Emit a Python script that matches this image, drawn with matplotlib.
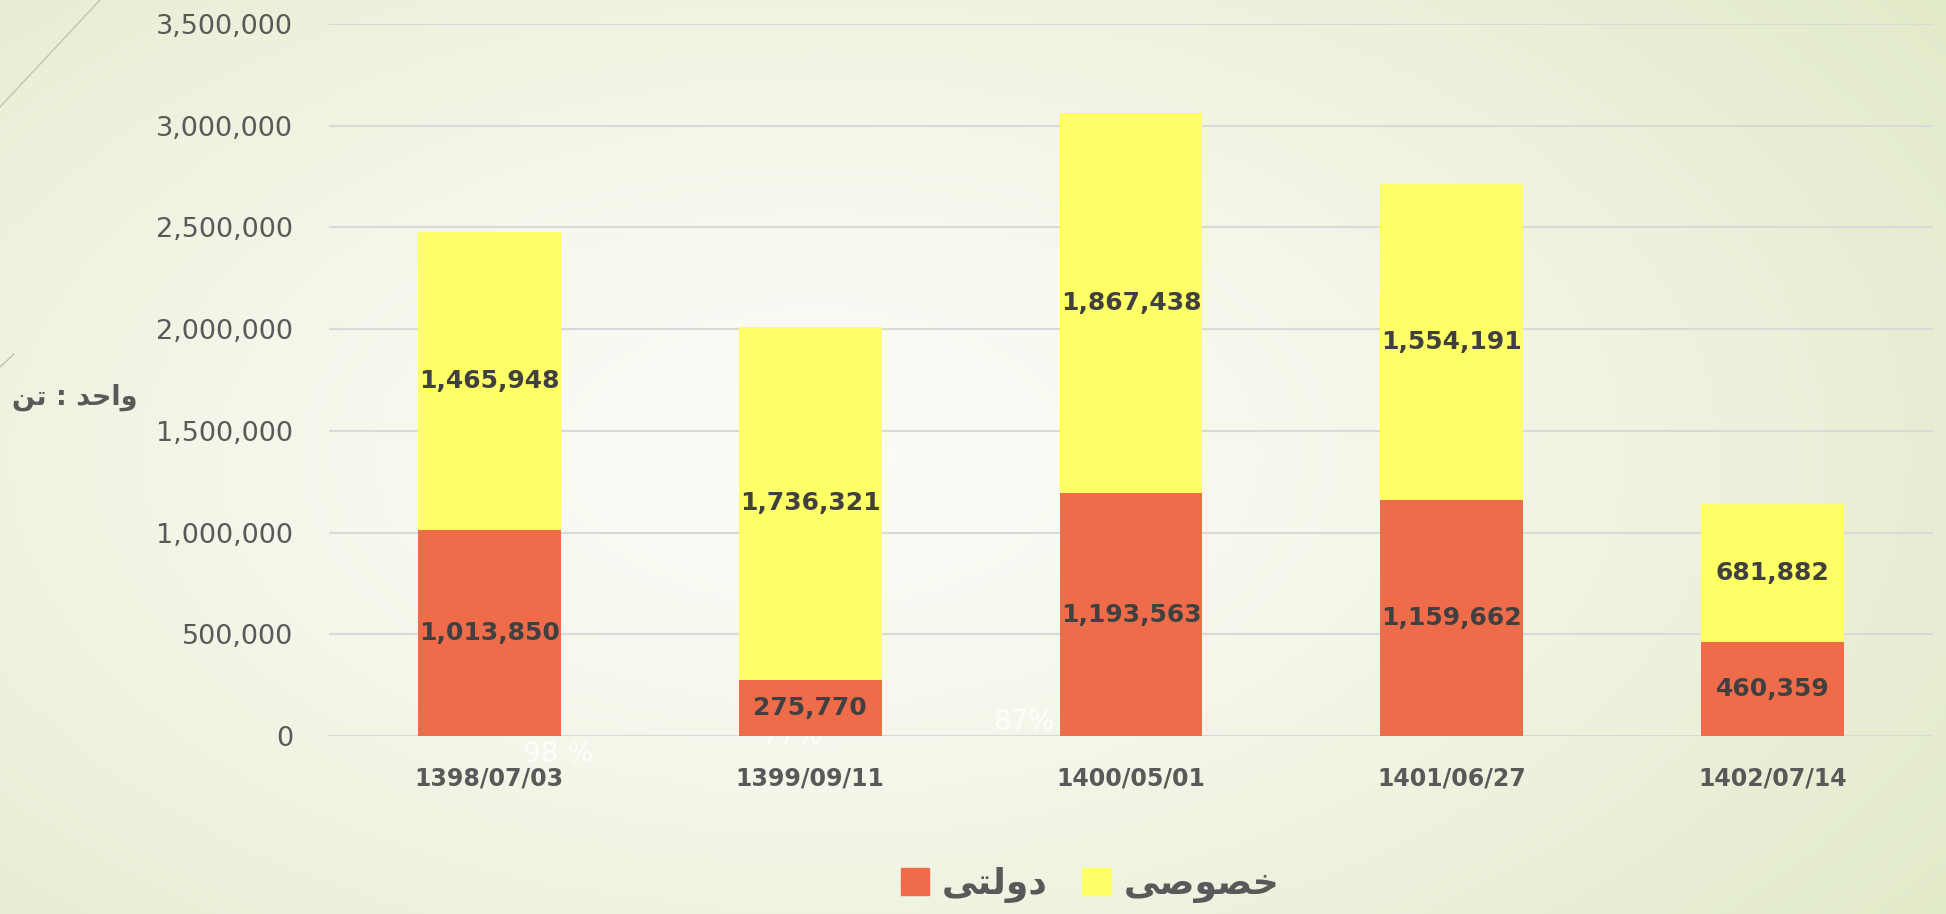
import numpy as np
import matplotlib
matplotlib.use("Agg")
from matplotlib import pyplot as plt
from matplotlib.lines import Line2D
from matplotlib.patches import Patch
from matplotlib import font_manager

plt.rcParams['font.family'] = ['DejaVu Sans', 'Noto Sans']

# data
dates = ["1398/07/03", "1399/09/11", "1400/05/01", "1401/06/27", "1402/07/14"]
dolati = [1013850, 275770, 1193563, 1159662, 460359]      # state
khosusi = [1465948, 1736321, 1867438, 1554191, 681882]    # private
yticks = [0, 500000, 1000000, 1500000, 2000000, 2500000, 3000000, 3500000]
# leftover white percentage labels from the slide (barely visible)
pct_labels = ["98 %", "77%", "87%"]
pct_pos = [(0.214, -88500), (0.946, 2000), (1.666, 68800)]

# persian text, pre-shaped (presentation forms, visual order)
lbl_dolati = "\uFEF0\uFE98\uFEDF\uFEED\uFEA9"     # دولتی
lbl_khosusi = "\uFEF0\uFEBB\uFEEE\uFEBC\uFEA7"    # خصوصی
lbl_unit = "\uFEE6\uFE97 : \uFEAA\uFEA3\uFE8D\uFEED"  # واحد : تن

orange = "#EF6C4A"
yellow = "#FFFF66"
grey = "#595959"
dark = "#404040"

# narrow bold face for numbers if available
names = {f.name for f in font_manager.fontManager.ttflist}
narrow = ["DejaVu Sans Condensed", "DejaVu Sans"] if "DejaVu Sans Condensed" in names else ["DejaVu Sans"]
num_size = 20 if len(narrow) == 2 else 18
cat_size = 19 if len(narrow) == 2 else 17

fig = plt.figure(figsize=(19.46, 9.14), dpi=100)

# background gradient
bg = fig.add_axes([0, 0, 1, 1], zorder=-10)
h, w = 200, 400
yy, xx = np.mgrid[0:h, 0:w]
xx = xx / (w - 1)
yy = yy / (h - 1)
d = np.sqrt(((xx - 0.42) / 0.75) ** 2 + ((yy - 0.5) / 0.9) ** 2)
d = np.clip(d, 0, 1) ** 1.3
c_in = np.array([252, 252, 248]) / 255
c_out = np.array([224, 233, 198]) / 255
img = c_in[None, None, :] * (1 - d[..., None]) + c_out[None, None, :] * d[..., None]
bg.imshow(img, aspect="auto", extent=[0, 1, 0, 1], origin="upper")
bg.set_xlim(0, 1)
bg.set_ylim(0, 1)
bg.axis("off")

# slide decoration lines
fig.add_artist(Line2D([0, 100 / 1946], [1 - 107 / 914, 1], color="#c8c3a8", lw=1.0))
fig.add_artist(Line2D([0, 14 / 1946], [1 - 367 / 914, 1 - 354 / 914], color="#c8c3a8", lw=1.0))

ax = fig.add_axes([329 / 1946, 1 - 736 / 914, 1604 / 1946, 712 / 914])
ax.patch.set_alpha(0)

x = np.arange(len(dates))
bw = 0.445
ax.bar(x, dolati, bw, color=orange, zorder=3)
ax.bar(x, khosusi, bw, bottom=dolati, color=yellow, zorder=3)

for i in range(len(dates)):
    ax.text(x[i], dolati[i] / 2, f"{dolati[i]:,}", ha="center", va="center", family=narrow,
            fontsize=num_size, fontweight="bold", color=dark, zorder=4)
    ax.text(x[i], dolati[i] + khosusi[i] / 2, f"{khosusi[i]:,}", ha="center", va="center",
            family=narrow, fontsize=num_size, fontweight="bold", color=dark, zorder=4)

for t, (px, py) in zip(pct_labels, pct_pos):
    ax.text(px, py, t, ha="center", va="center", fontsize=20, color="white",
            alpha=0.85, zorder=1, clip_on=False)

ax.set_xlim(-0.5, len(dates) - 0.5)
ax.set_ylim(0, 3500000)
ax.set_yticks(yticks)
ax.set_yticklabels([f"{v:,}" for v in yticks])
ax.set_xticks(x)
ax.set_xticklabels(dates, fontweight="bold", family=narrow)
ax.tick_params(axis="y", length=0, pad=26, labelsize=19.5, labelcolor=grey)
ax.tick_params(axis="x", length=0, pad=22, labelsize=cat_size, labelcolor=grey)
ax.grid(axis="y", color="#d9d9d9", lw=1.5, zorder=0)
for s in ax.spines.values():
    s.set_visible(False)

fig.text(12 / 1946, 1 - 397 / 914, lbl_unit, ha="left", va="center",
         fontsize=19.5, fontweight="bold", color=grey)

handles = [Patch(color=orange), Patch(color=yellow)]
fig.legend(handles, [lbl_dolati, lbl_khosusi], loc="center", ncol=2,
           bbox_to_anchor=(1090 / 1946, 1 - 885 / 914), frameon=False,
           prop={"size": 26, "weight": "bold"}, labelcolor=grey,
           handlelength=0.8, handleheight=0.8, handletextpad=0.35, columnspacing=0.95)

fig.savefig("out.png", dpi=100)
